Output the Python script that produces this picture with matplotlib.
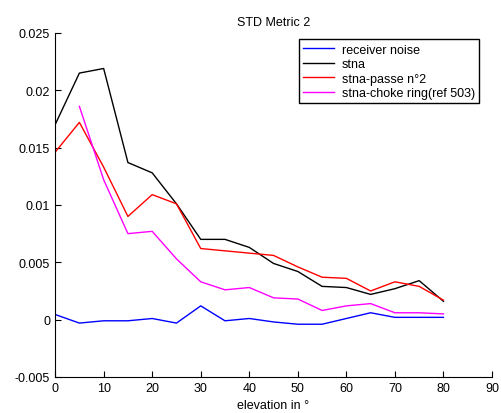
import matplotlib.pyplot as plt
import numpy as np

plt.rcParams['font.family'] = ['Liberation Sans', 'DejaVu Sans']

elevation = np.arange(0, 85, 5)
receiver_noise = [0.00045, -0.0003, -0.0001, -0.0001, 0.0001, -0.0003, 0.0012, -0.0001, 0.0001,
                  -0.0002, -0.0004, -0.0004, 0.0001, 0.0006, 0.0002, 0.0002, 0.0002]
stna = [0.0170, 0.0215, 0.0219, 0.0137, 0.0128, 0.0101, 0.0070, 0.0070, 0.0063,
        0.0049, 0.0042, 0.0029, 0.0028, 0.0022, 0.0027, 0.0034, 0.0016]
stna_passe2 = [0.0146, 0.0172, 0.0133, 0.0090, 0.0109, 0.0101, 0.0062, 0.0060, 0.0058,
               0.0056, 0.0046, 0.0037, 0.0036, 0.0025, 0.0033, 0.0029, 0.0017]
elevation_choke = np.arange(5, 85, 5)
stna_choke = [0.0186, 0.0122, 0.0075, 0.0077, 0.0053, 0.0033, 0.0026, 0.0028,
              0.0019, 0.0018, 0.0008, 0.0012, 0.0014, 0.0006, 0.0006, 0.0005]

fig = plt.figure(figsize=(5.01, 4.14), dpi=100)
ax = fig.add_axes([0.11, 0.087, 0.872, 0.831])

ax.plot(elevation, receiver_noise, color='blue', lw=1, label='receiver noise')
ax.plot(elevation, stna, color='black', lw=1, label='stna')
ax.plot(elevation, stna_passe2, color='red', lw=1, label='stna-passe n°2')
ax.plot(elevation_choke, stna_choke, color='magenta', lw=1, label='stna-choke ring(ref 503)')

ax.set_xlim(0, 90)
ax.set_ylim(-0.005, 0.025)
ax.set_xticks(np.arange(0, 91, 10))
ax.set_yticks([-0.005, 0, 0.005, 0.01, 0.015, 0.02, 0.025])
ax.set_yticklabels(['-0.005', '0', '0.005', '0.01', '0.015', '0.02', '0.025'])
ax.tick_params(direction='in', labelsize=9, length=4)
ax.spines['top'].set_visible(False)
ax.spines['right'].set_visible(False)

ax.set_title('STD Metric 2', fontsize=9)
ax.set_xlabel('elevation in °', fontsize=9, labelpad=4)

leg = ax.legend(loc='upper right', fontsize=9, fancybox=False, edgecolor='black',
                framealpha=1, handlelength=2.5, labelspacing=0.2, borderpad=0.35,
                handletextpad=0.6, borderaxespad=0.5, bbox_to_anchor=(0.985, 1.0))
leg.get_frame().set_linewidth(1)

plt.savefig('out.png')
